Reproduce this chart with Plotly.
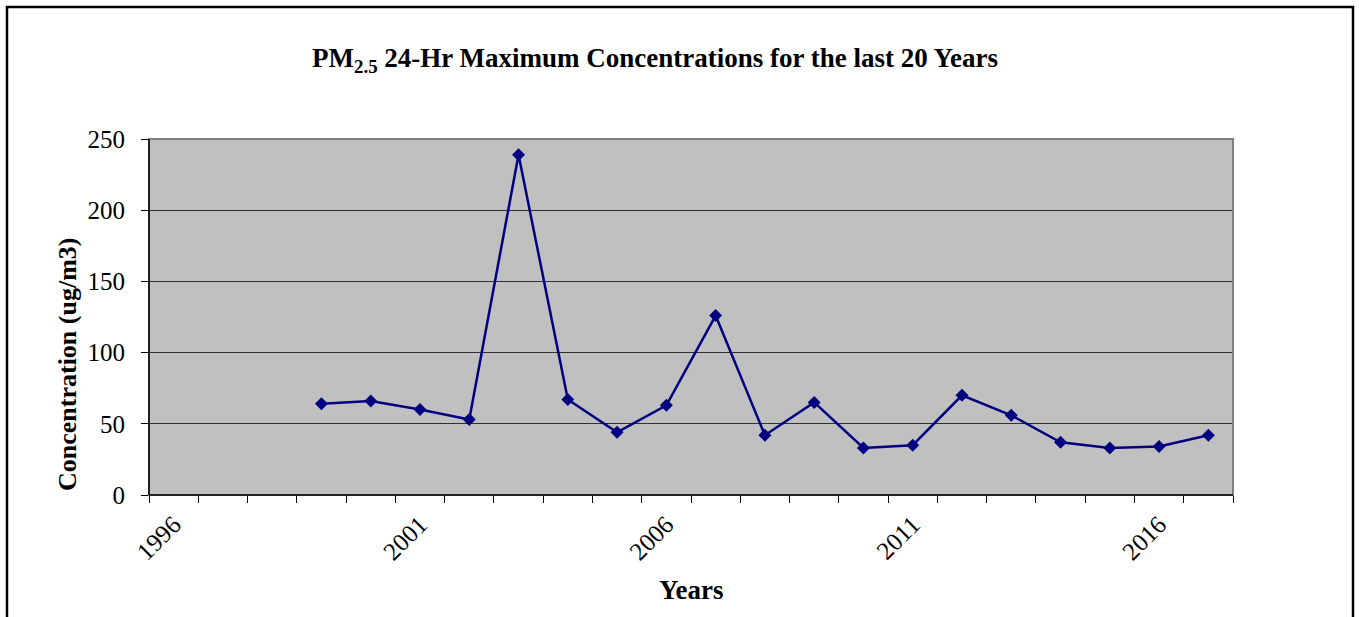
import plotly.graph_objects as go

# PM2.5 annual 24-hour maximum concentrations (ug/m3)
years = [1999, 2000, 2001, 2002, 2003, 2004, 2005, 2006, 2007, 2008,
         2009, 2010, 2011, 2012, 2013, 2014, 2015, 2016, 2017]
concentrations = [64, 66, 60, 53, 239, 67, 44, 63, 126, 42,
                  65, 33, 35, 70, 56, 37, 33, 34, 42]

label_years = [1996, 2001, 2006, 2011, 2016]
y_ticks = [0, 50, 100, 150, 200, 250]

first_year, last_year = 1996, 2017
category_edges = [y - 0.5 for y in range(first_year, last_year + 2)]

W, H = 1359, 617
L, R, T, B = 149, 126, 139, 122
pw, ph = W - L - R, H - T - B

serif = "Liberation Serif, Times New Roman, serif"

fig = go.Figure()
fig.add_trace(go.Scatter(
    x=years, y=concentrations, mode="lines+markers",
    line=dict(color="#000080", width=2.5),
    marker=dict(symbol="diamond", size=10, color="#000080"),
    showlegend=False, xaxis="x", yaxis="y",
))
# invisible trace that carries the boundary tick axis
fig.add_trace(go.Scatter(x=[first_year], y=[0], mode="markers",
                         marker=dict(opacity=0), showlegend=False,
                         hoverinfo="skip", xaxis="x2", yaxis="y"))

xrange = [first_year - 0.5, last_year + 0.5]

fig.update_layout(
    width=W, height=H,
    margin=dict(l=L, r=R, t=T, b=B),
    paper_bgcolor="white",
    plot_bgcolor="#c0c0c0",
    font=dict(family=serif, color="black"),
    xaxis=dict(
        range=xrange, tickmode="array", tickvals=label_years,
        ticktext=[str(v) for v in label_years], tickangle=-45,
        ticks="", tickfont=dict(size=25, family=serif),
        ticklabelstandoff=9,
        showgrid=False, zeroline=False,
        showline=False,
    ),
    xaxis2=dict(
        range=xrange, overlaying="x", side="bottom",
        tickmode="array", tickvals=category_edges, ticks="outside",
        ticklen=7, tickcolor="black", tickwidth=1, showticklabels=False,
        showgrid=False, zeroline=False, showline=False,
    ),
    yaxis=dict(
        range=[0, 250], tickmode="array", tickvals=y_ticks,
        ticks="outside", ticklen=7, tickcolor="black",
        tickfont=dict(size=25, family=serif),
        ticklabelstandoff=11,
        showgrid=True, gridcolor="#303030", gridwidth=1,
        zeroline=False, showline=False,
    ),
    title=dict(
        text="<b>PM<sub>2.5</sub> 24-Hr Maximum Concentrations for the last 20 Years</b>",
        x=655 / W, xanchor="center", y=1 - 58 / H, yanchor="middle",
        font=dict(size=27, family=serif),
    ),
)

shapes = []
# plot area frame (grey) then black axis lines on left and bottom
shapes.append(dict(type="rect", xref="paper", yref="paper", x0=0, x1=1, y0=0, y1=1,
                   line=dict(color="#808080", width=2), layer="above"))
shapes.append(dict(type="line", xref="paper", yref="paper", x0=0, x1=0, y0=0, y1=1,
                   line=dict(color="black", width=1.5), layer="above"))
shapes.append(dict(type="line", xref="paper", yref="paper", x0=0, x1=1, y0=0, y1=0,
                   line=dict(color="black", width=1.5), layer="above"))
# outer chart border
shapes.append(dict(type="rect", xref="paper", yref="paper",
                   x0=(7 - L) / pw, x1=(1353 - L) / pw,
                   y0=(H - T - 640) / ph, y1=(H - B - 7) / ph,
                   line=dict(color="black", width=2.5), layer="above"))
fig.update_layout(shapes=shapes)

fig.add_annotation(text="<b>Concentration (ug/m3)</b>", textangle=-90,
                   xref="paper", yref="paper",
                   x=(67 - L) / pw, y=(H - B - 365) / ph,
                   xanchor="center", yanchor="middle", showarrow=False,
                   font=dict(size=26, family=serif))
fig.add_annotation(text="<b>Years</b>", xref="paper", yref="paper",
                   x=(691 - L) / pw, y=(H - B - 590) / ph,
                   xanchor="center", yanchor="middle", showarrow=False,
                   font=dict(size=27, family=serif))

fig.write_html("out.html")
